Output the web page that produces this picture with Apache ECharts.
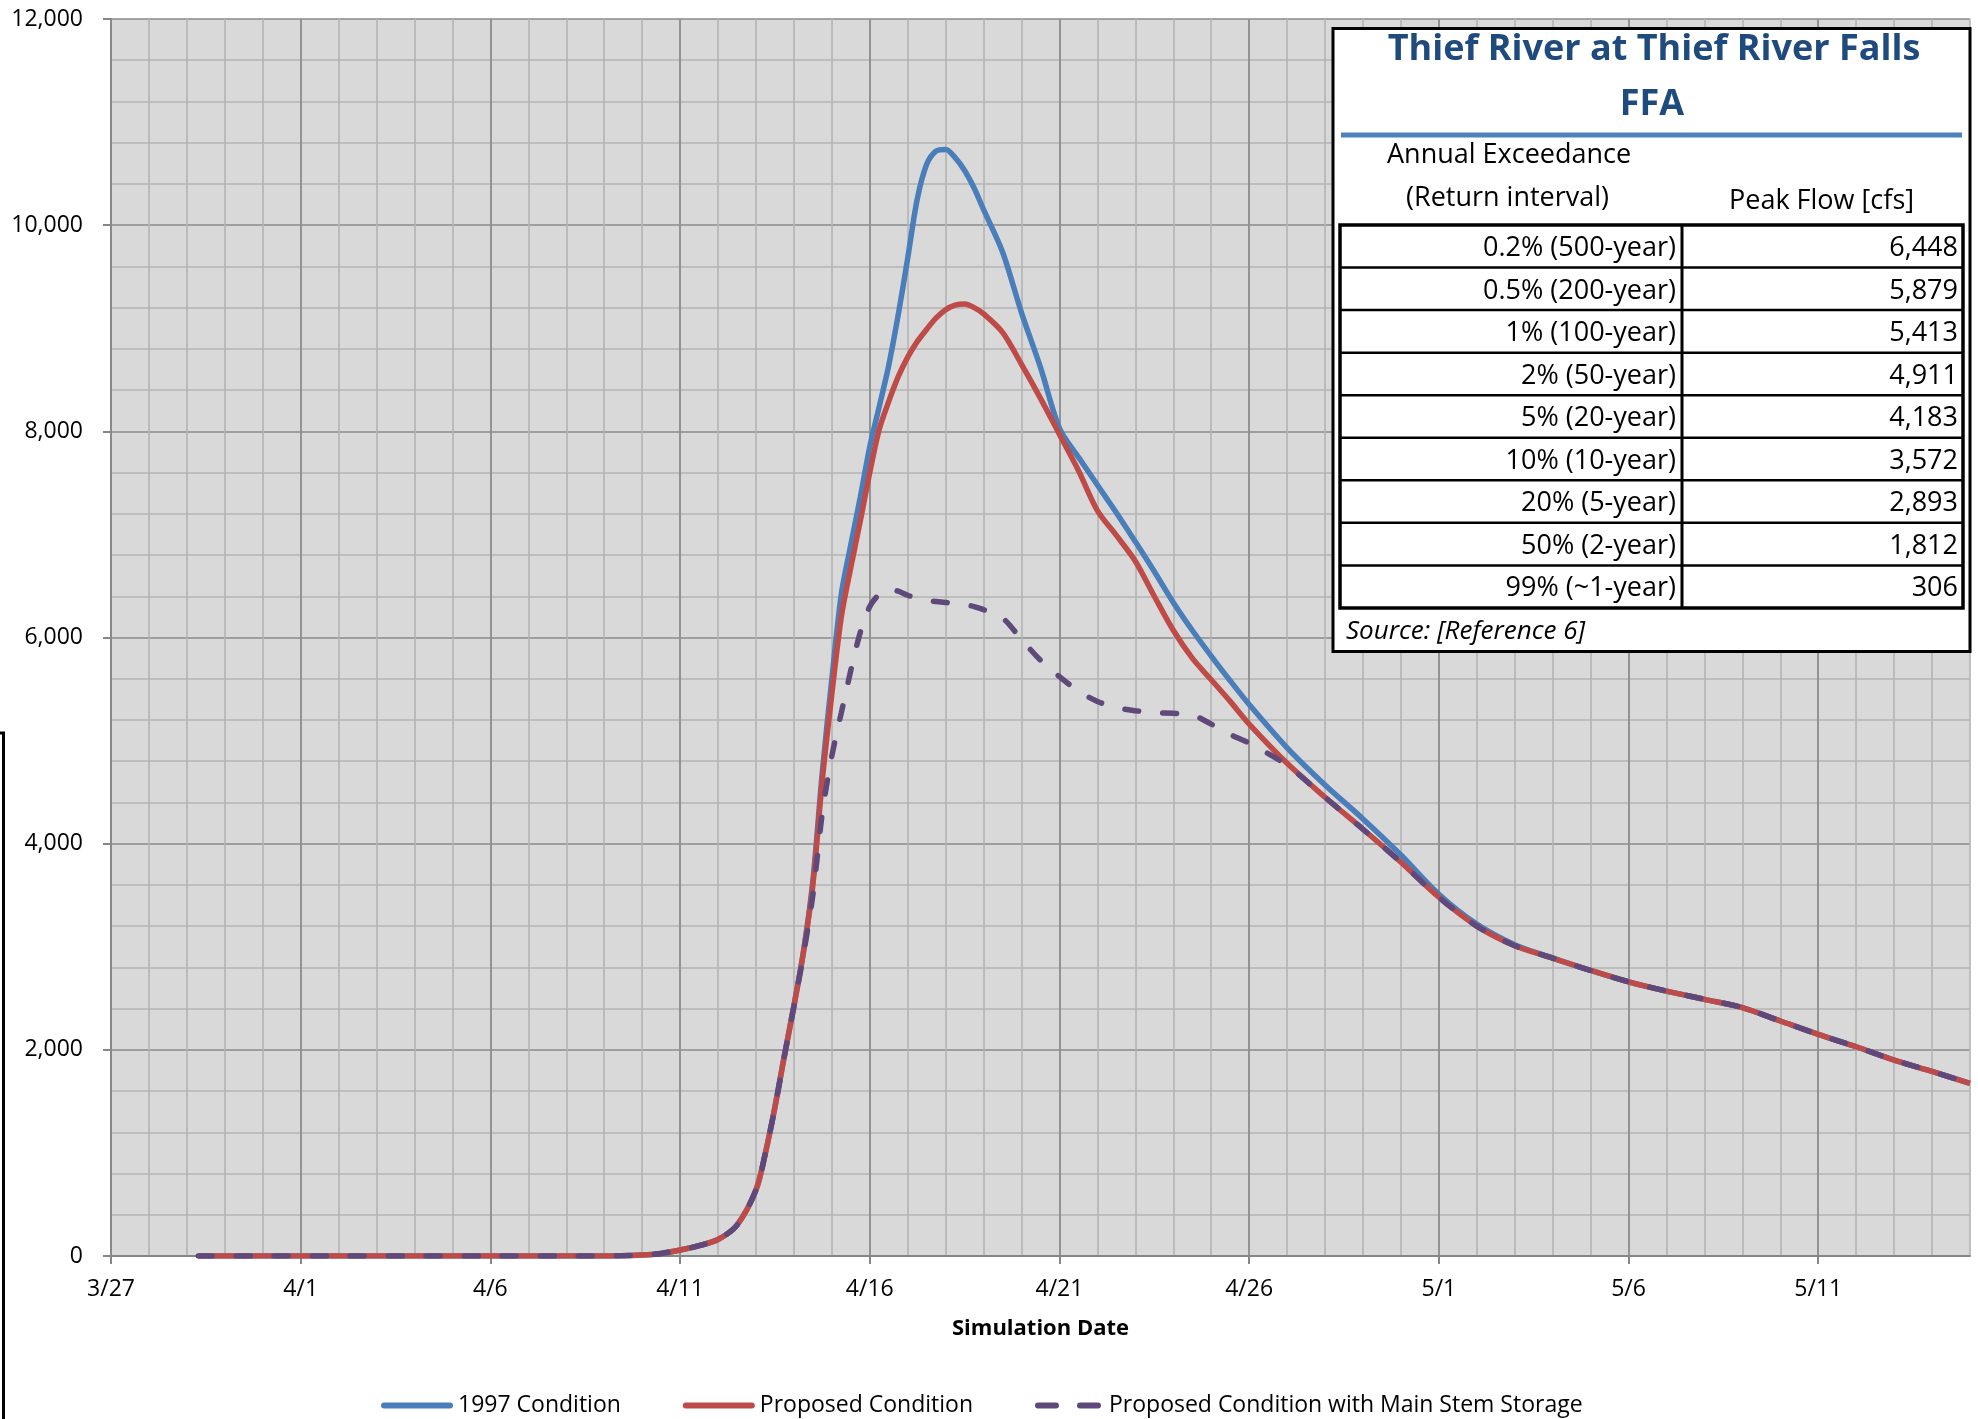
<!DOCTYPE html>
<html lang="en">
<head>
    <meta charset="UTF-8">
    <title>Thief River at Thief River Falls</title>
    <script src="https://cdn.jsdelivr.net/npm/echarts@6/dist/echarts.min.js"></script>
    <style>
        html, body {
            margin: 0;
            padding: 0;
            background: #fff;
        }

        #charts {
            width: 1978px;
            height: 1419px;
        }
    </style>
</head>
<body>
<div id="charts"></div>

<script>
    // x = days after 3/27
    var days = [2.3, 4, 6, 8, 10, 12, 13, 14, 14.5, 15, 15.5, 16, 16.5, 17,
        17.25, 17.5, 17.75, 18, 18.25, 18.5, 18.75, 19, 19.25, 19.5, 19.75, 20,
        20.25, 20.5, 20.75, 21, 21.25, 21.5, 21.75, 22, 22.25, 22.5, 22.75, 23,
        23.5, 24, 24.5, 25, 25.5, 26, 26.5, 27, 27.5, 28, 28.5, 29, 29.5, 30,
        31, 32, 33, 34, 35, 36, 37, 38, 39, 40, 41, 42, 43, 44, 45, 46, 47, 48, 49];

    var flow1997 = [0, 0, 0, 0, 0, 0, 0, 10, 25, 58, 100, 160, 300, 640,
        1000, 1450, 1950, 2430, 2950, 3640, 4700, 5600, 6420, 6900, 7360, 7850,
        8240, 8640, 9130, 9680, 10250, 10590, 10720, 10735, 10655, 10530, 10360, 10150,
        9740, 9150, 8620, 8030, 7750, 7480, 7210, 6930, 6640, 6340, 6070, 5820, 5580, 5350,
        4930, 4570, 4240, 3890, 3510, 3220, 3020, 2890, 2770, 2660, 2570, 2490, 2410, 2280, 2150, 2030, 1900, 1790, 1675];

    var flowProposed = [0, 0, 0, 0, 0, 0, 0, 10, 25, 58, 100, 160, 300, 640,
        1000, 1440, 1940, 2420, 2940, 3600, 4620, 5450, 6200, 6680, 7130, 7600,
        8020, 8290, 8530, 8720, 8870, 8990, 9100, 9180, 9225, 9235, 9200, 9140,
        8960, 8650, 8320, 7970, 7620, 7230, 6990, 6740, 6400, 6070, 5800, 5590, 5380, 5160,
        4780, 4450, 4140, 3820, 3480, 3200, 3010, 2890, 2770, 2660, 2570, 2490, 2410, 2280, 2150, 2030, 1900, 1790, 1675];

    var flowStorage = [0, 0, 0, 0, 0, 0, 0, 10, 25, 58, 100, 160, 300, 640,
        1000, 1440, 1940, 2420, 2920, 3500, 4300, 4850, 5270, 5680, 6050, 6300,
        6420, 6470, 6450, 6410, 6380, 6360, 6350, 6340, 6330, 6320, 6300, 6270,
        6190, 5980, 5780, 5620, 5480, 5380, 5320, 5290, 5270, 5265, 5250, 5160, 5060, 4975,
        4760, 4450, 4140, 3820, 3480, 3200, 3010, 2890, 2770, 2660, 2570, 2490, 2410, 2280, 2150, 2030, 1900, 1790, 1675];

    var seriesNames = ['1997 Condition', 'Proposed Condition', 'Proposed Condition with Main Stem Storage'];
    var dateLabels = ['3/27', '4/1', '4/6', '4/11', '4/16', '4/21', '4/26', '5/1', '5/6', '5/11'];
    var flowLabels = ['0', '2,000', '4,000', '6,000', '8,000', '10,000', '12,000'];

    // FFA table (text only)
    var ffaTitle = ['Thief River at Thief River Falls', 'FFA'];
    var ffaHeader = ['Annual Exceedance', '(Return interval)', 'Peak Flow [cfs]'];
    var ffaEvents = ['0.2% (500-year)', '0.5% (200-year)', '1% (100-year)', '2% (50-year)',
        '5% (20-year)', '10% (10-year)', '20% (5-year)', '50% (2-year)', '99% (~1-year)'];
    var ffaPeaks = ['6,448', '5,879', '5,413', '4,911', '4,183', '3,572', '2,893', '1,812', '306'];
    var ffaSource = 'Source: [Reference 6]';

    var font = "'Open Sans', 'Noto Sans', sans-serif";
    var minorColor = '#b3b3b3';
    var majorColor = '#8a8a8a';
    var axisColor = '#868686';
    var colors = ['#4a7ebb', '#be4b48', '#5f497a'];
    var lineW = 5.5;

    var majorDays = dateLabels.map(function (l, i) { return i * 5; });
    // one colour per major line, the extra one is the 5/15 edge
    var majorColors = majorDays.map(function () { return majorColor; }).concat([minorColor]);

    // legend swatches: solid bar with round ends, and two dashes
    var solidIcon = 'path://M3,0h66a3,3,0,0,1,0,6h-66a3,3,0,0,1,0,-6z';
    var dashIcon = 'path://M3,0h18a3,3,0,0,1,0,6h-18a3,3,0,0,1,0,-6zM45,0h18a3,3,0,0,1,0,6h-18a3,3,0,0,1,0,-6z';

    function pairs(values) {
        return days.map(function (d, i) { return [d, values[i]]; });
    }

    function txt(text, x, y, size, opts) {
        opts = opts || {};
        return {
            type: 'text',
            z: 101,
            style: {
                text: text,
                x: x,
                y: y,
                fill: opts.fill || '#000',
                fontFamily: font,
                fontSize: size,
                fontWeight: opts.weight || 'normal',
                fontStyle: opts.style || 'normal',
                textAlign: opts.align || 'left',
                textVerticalAlign: 'middle'
            }
        };
    }

    function line(x1, y1, x2, y2, w, color) {
        return {
            type: 'line',
            z: 101,
            shape: {x1: x1, y1: y1, x2: x2, y2: y2},
            style: {stroke: color || '#000', lineWidth: w}
        };
    }

    function tableGraphic() {
        var g = [];
        var tx = 1340, ty = 225, tw = 623, rowH = 42.55, colX = 1682;
        g.push({
            type: 'rect', z: 100,
            shape: {x: 1333, y: 28.5, width: 637, height: 623},
            style: {fill: '#fff', stroke: '#000', lineWidth: 3}
        });
        g.push(txt(ffaTitle[0], 1654, 50, 36, {weight: 'bold', fill: '#1f4a7e', align: 'center'}));
        g.push(txt(ffaTitle[1], 1652, 105, 36, {weight: 'bold', fill: '#1f4a7e', align: 'center'}));
        g.push(line(1341, 135, 1962, 135, 5, '#4f81bd'));
        g.push(txt(ffaHeader[0], 1387, 155, 27));
        g.push(txt(ffaHeader[1], 1406, 198, 27));
        g.push(txt(ffaHeader[2], 1729, 201, 27));
        g.push({
            type: 'rect', z: 101,
            shape: {x: tx, y: ty, width: tw, height: rowH * ffaEvents.length},
            style: {fill: 'none', stroke: '#000', lineWidth: 3.5}
        });
        g.push(line(colX, ty, colX, ty + rowH * ffaEvents.length, 3));
        for (var i = 0; i < ffaEvents.length; i++) {
            var cy = ty + rowH * (i + 0.5);
            if (i > 0) {
                g.push(line(tx, ty + rowH * i, tx + tw, ty + rowH * i, 2.5));
            }
            g.push(txt(ffaEvents[i], 1676, cy + 2, 27, {align: 'right'}));
            g.push(txt(ffaPeaks[i], 1958, cy + 2, 27, {align: 'right'}));
        }
        g.push(txt(ffaSource, 1346, 632, 26, {style: 'italic'}));
        // stray frame edge on the left
        g.push({
            type: 'polyline', z: 100,
            shape: {points: [[0, 733], [3.5, 733], [3.5, 1419]]},
            style: {stroke: '#000', lineWidth: 3, fill: 'none'}
        });
        return g;
    }

    var chart = document.getElementById('charts');
    var myChart = echarts.init(chart);

    var option = {
        animation: false,
        backgroundColor: '#fff',
        textStyle: {fontFamily: font},
        grid: {
            left: 111,
            right: 8,
            top: 19,
            bottom: 163,
            show: true,
            backgroundColor: '#d9d9d9',
            borderWidth: 0
        },
        legend: {
            left: 376,
            top: 1389,
            itemWidth: 72,
            itemHeight: 6,
            itemGap: 62,
            textStyle: {fontFamily: font, fontSize: 23, color: '#000'},
            data: [
                {name: seriesNames[0], icon: solidIcon},
                {name: seriesNames[1], icon: solidIcon},
                {name: seriesNames[2], icon: dashIcon}
            ]
        },
        xAxis: [{
            type: 'value',
            min: 0,
            max: 49,
            interval: 5,
            z: 1,
            name: 'Simulation Date',
            nameLocation: 'middle',
            nameGap: 62,
            nameTextStyle: {fontFamily: font, fontSize: 22, fontWeight: 'bold', color: '#000'},
            axisLine: {lineStyle: {color: axisColor, width: 2}},
            axisTick: {customValues: majorDays, length: 8, lineStyle: {color: axisColor, width: 2}},
            axisLabel: {
                customValues: majorDays,
                margin: 22,
                fontFamily: font,
                fontSize: 23,
                color: '#000',
                formatter: function (v) { return dateLabels[Math.round(v / 5)] || ''; }
            },
            splitLine: {lineStyle: {color: majorColors, width: 1.6}}
        }, {
            type: 'value',
            min: 0,
            max: 49,
            interval: 1,
            z: 0,
            axisLine: {show: false},
            axisTick: {show: false},
            axisLabel: {show: false},
            splitLine: {lineStyle: {color: minorColor, width: 1.6}}
        }],
        yAxis: {
            type: 'value',
            min: 0,
            max: 12000,
            interval: 2000,
            axisLine: {show: true, lineStyle: {color: axisColor, width: 2}},
            axisTick: {show: true, length: 8, lineStyle: {color: axisColor, width: 2}},
            axisLabel: {
                margin: 28,
                fontFamily: font,
                fontSize: 23,
                color: '#000',
                formatter: function (v) { return flowLabels[Math.round(v / 2000)]; }
            },
            splitLine: {lineStyle: {color: majorColor, width: 1.6}},
            minorTick: {show: false, splitNumber: 5},
            minorSplitLine: {show: true, lineStyle: {color: minorColor, width: 1.6}}
        },
        series: [{
            name: seriesNames[0],
            type: 'line',
            data: pairs(flow1997),
            symbol: 'none',
            smooth: 0.3,
            z: 2,
            itemStyle: {color: colors[0]},
            lineStyle: {color: colors[0], width: lineW}
        }, {
            name: seriesNames[1],
            type: 'line',
            data: pairs(flowProposed),
            symbol: 'none',
            smooth: 0.3,
            z: 3,
            itemStyle: {color: colors[1]},
            lineStyle: {color: colors[1], width: lineW}
        }, {
            name: seriesNames[2],
            type: 'line',
            data: pairs(flowStorage),
            symbol: 'none',
            smooth: 0.3,
            z: 4,
            itemStyle: {color: colors[2]},
            lineStyle: {color: colors[2], width: lineW, type: [14, 24], cap: 'round'}
        }],
        graphic: tableGraphic()
    };

    myChart.setOption(option);
</script>
</body>
</html>
